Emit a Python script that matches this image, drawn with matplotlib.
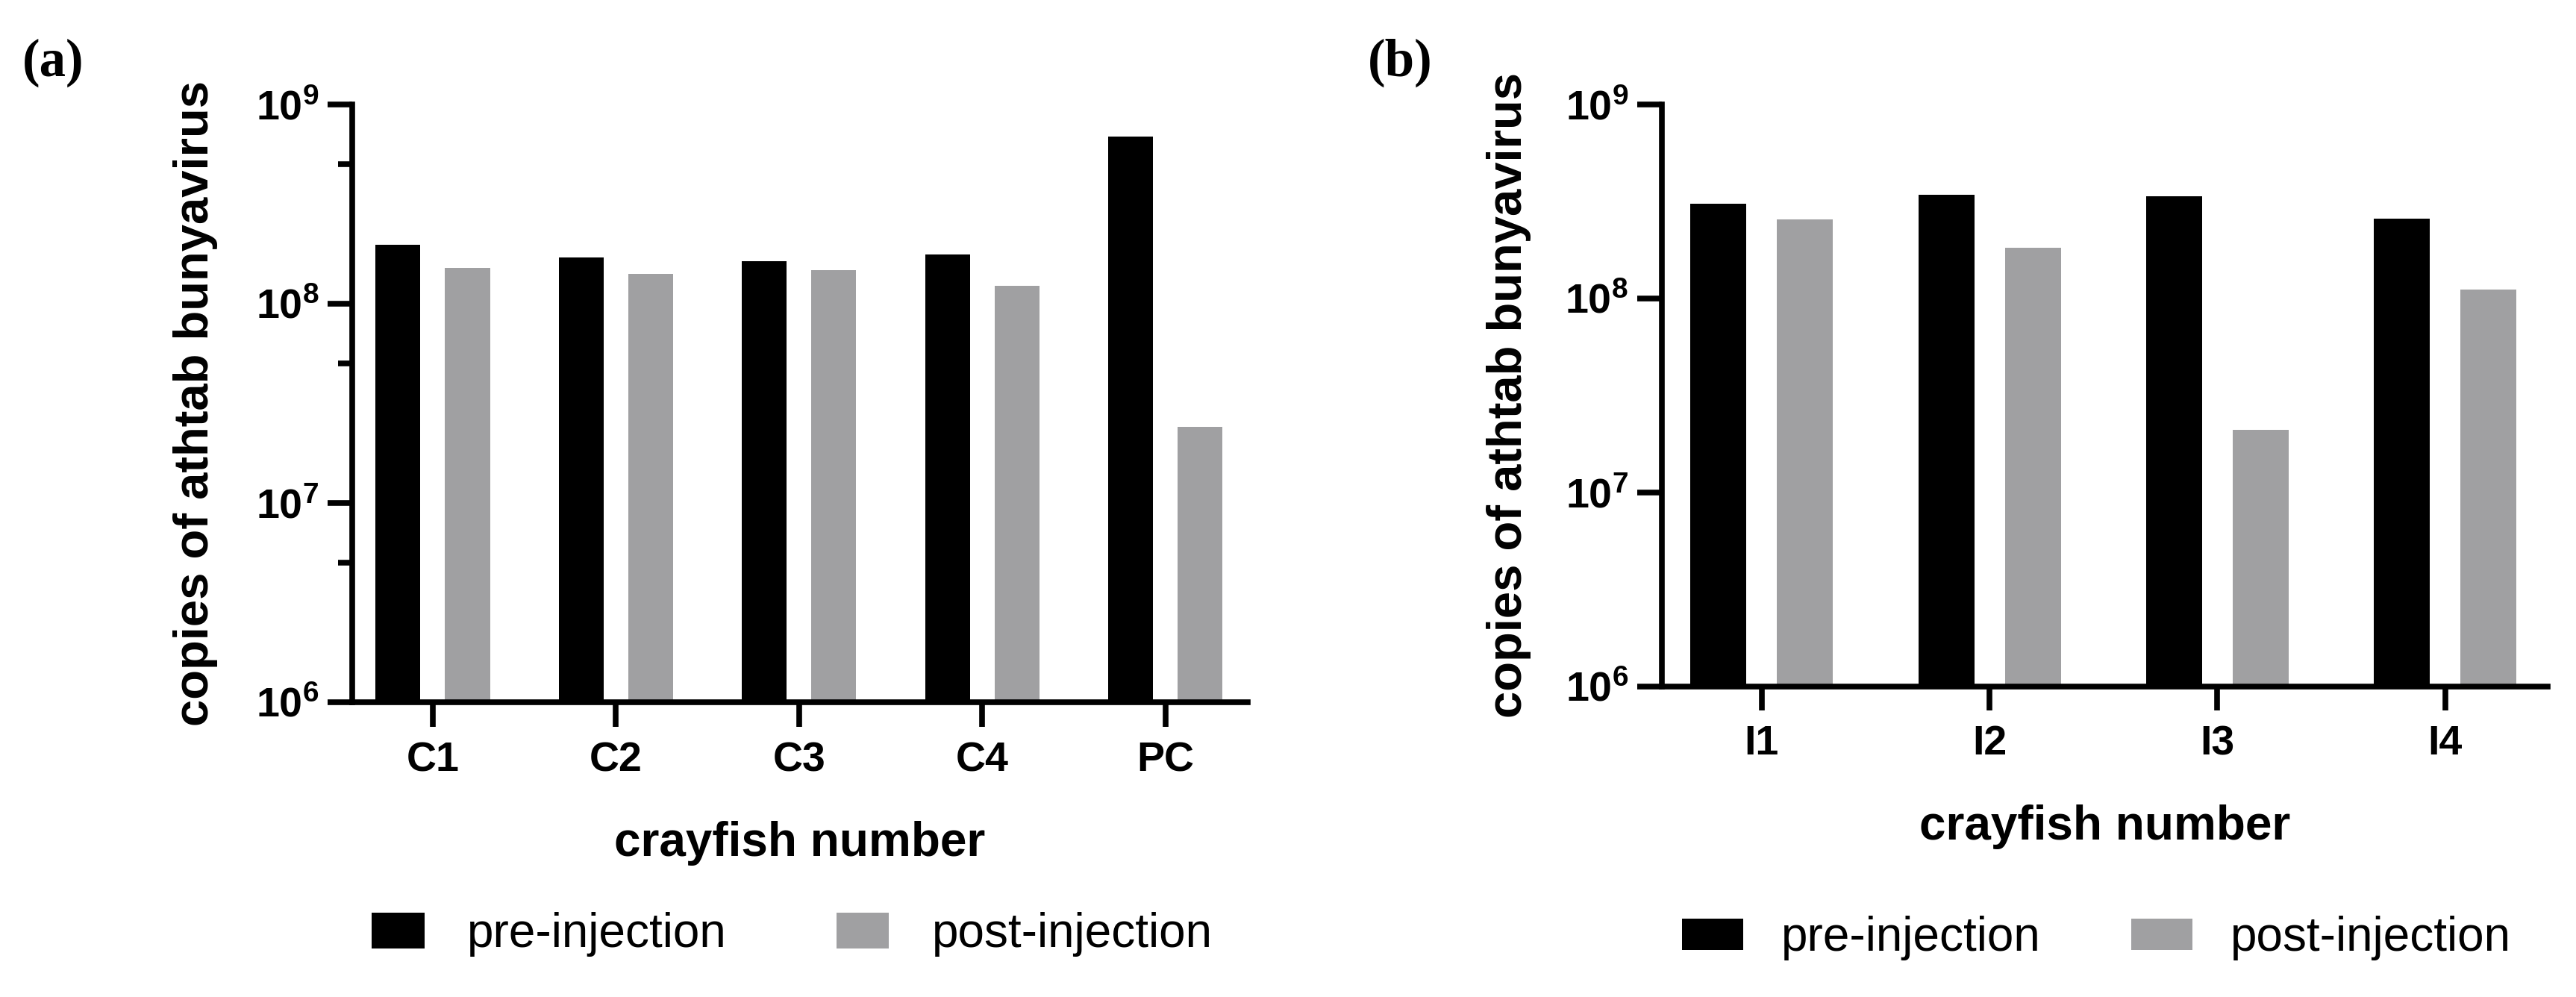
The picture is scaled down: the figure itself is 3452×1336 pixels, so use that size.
import numpy as np
import matplotlib
matplotlib.use("Agg")
import matplotlib.pyplot as plt
from matplotlib.patches import Patch
from matplotlib.ticker import NullLocator

plt.rcParams['font.family'] = ['Liberation Sans', 'DejaVu Sans']
plt.rcParams['mathtext.fontset'] = 'custom'
plt.rcParams['mathtext.rm'] = 'Liberation Sans:bold'
plt.rcParams['mathtext.bf'] = 'Liberation Sans:bold'
plt.rcParams['mathtext.it'] = 'Liberation Sans:bold'

# data
control_names = ['C1', 'C2', 'C3', 'C4', 'PC']
control_pre = [1.97e8, 1.70e8, 1.64e8, 1.77e8, 6.9e8]
control_post = [1.51e8, 1.41e8, 1.47e8, 1.23e8, 2.4e7]

injected_names = ['I1', 'I2', 'I3', 'I4']
injected_pre = [3.08e8, 3.44e8, 3.36e8, 2.58e8]
injected_post = [2.55e8, 1.82e8, 2.1e7, 1.11e8]

ytick_vals = [1e6, 1e7, 1e8, 1e9]
ytick_text = [r'$10^{6}$', r'$10^{7}$', r'$10^{8}$', r'$10^{9}$']
minor_vals = [5e6, 5e7, 5e8]

black = '#000000'
grey = '#a0a0a2'
ylab = 'copies of athtab bunyavirus'
xlab = 'crayfish number'

fig = plt.figure(figsize=(34.52, 13.36), dpi=100)
ax_a = fig.add_axes([0.1367, 0.2957, 0.3477, 0.5995])
ax_b = fig.add_axes([0.6450, 0.3114, 0.3440, 0.5838])


def draw_panel(ax, names, pre, post, minor, xtick_len):
    x = np.arange(len(names))
    ax.bar(x - 0.19, pre, width=0.245, color=black)
    ax.bar(x + 0.19, post, width=0.245, color=grey)
    ax.set_yscale('log')
    ax.set_ylim(1e6, 1e9)
    ax.set_xlim(-0.44, len(names) - 1 + 0.45)
    ax.set_yticks(ytick_vals)
    ax.set_yticklabels(ytick_text, fontsize=40)
    if minor:
        ax.set_yticks(minor_vals, minor=True)
    else:
        ax.yaxis.set_minor_locator(NullLocator())
    ax.set_xticks(x)
    ax.set_xticklabels(names, fontsize=40, fontweight='bold')
    for s in ['top', 'right']:
        ax.spines[s].set_visible(False)
    for s in ['left', 'bottom']:
        ax.spines[s].set_linewidth(5.5)
    ax.tick_params(axis='y', which='major', length=24, width=5.5, pad=8)
    ax.tick_params(axis='y', which='minor', length=14, width=5.5)
    ax.tick_params(axis='x', length=xtick_len, width=5.5, pad=14)
    ax.set_ylabel(ylab, fontsize=47, fontweight='bold')
    ax.set_xlabel(xlab, fontsize=46, fontweight='bold')


draw_panel(ax_a, control_names, control_pre, control_post, True, 24)
draw_panel(ax_b, injected_names, injected_pre, injected_post, False, 23)

ax_a.yaxis.set_label_coords(-0.150, 0.5)
ax_a.xaxis.set_label_coords(0.5, -0.1985)
ax_b.yaxis.set_label_coords(-0.147, 0.5)
ax_b.xaxis.set_label_coords(0.5, -0.2026)

handles = [Patch(facecolor=black, label='pre-injection'),
           Patch(facecolor=grey, label='post-injection')]
fig.legend(handles=handles, loc='center', bbox_to_anchor=(0.3075, 0.063),
           ncol=2, frameon=False, fontsize=46, handlelength=1.1,
           handleheight=0.78, handletextpad=0.9, columnspacing=2.3)
fig.legend(handles=handles, loc='center', bbox_to_anchor=(0.814, 0.0588),
           ncol=2, frameon=False, fontsize=46, handlelength=1.28,
           handleheight=0.65, handletextpad=0.8, columnspacing=1.9)

fig.text(0.0087, 0.9237, '(a)', fontsize=51, fontweight='bold',
         family='Liberation Serif')
fig.text(0.531, 0.9237, '(b)', fontsize=51, fontweight='bold',
         family='Liberation Serif')

fig.savefig('out.png', dpi=100, facecolor='white')
